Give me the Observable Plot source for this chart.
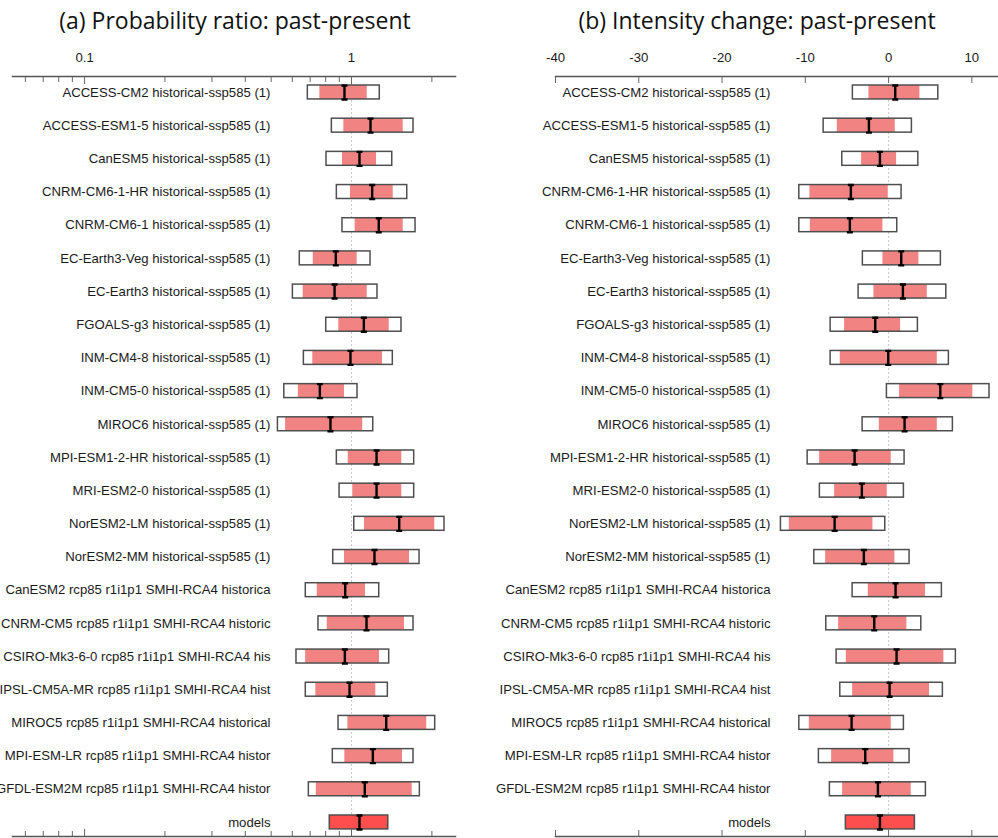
<!DOCTYPE html>
<html>
<head>
<meta charset="utf-8">
<script src="https://cdn.jsdelivr.net/npm/d3@7"></script>
<script src="https://cdn.jsdelivr.net/npm/@observablehq/plot@0.6"></script>
<style>
  body { margin: 0; background: #fff; }
  #wrap { position: relative; width: 998px; height: 838px; overflow: hidden; background: #fff; }
  .title { position: absolute; top: 0; height: 40px; line-height: 40px; transform: translateX(-50%);
           font-family: "Open Sans", sans-serif; font-size: 23px; color: #111; white-space: nowrap; }
  .panel { position: absolute; top: 40px; }
</style>
</head>
<body>
<div id="wrap">
  <div class="title" style="left:235px">(a) Probability ratio: past-present</div>
  <div class="title" style="left:757px">(b) Intensity change: past-present</div>
  <div class="panel" id="pa" style="left:0px"></div>
  <div class="panel" id="pb" style="left:500px"></div>
</div>
<script>
// ---- data ----
const models = [
  "ACCESS-CM2 historical-ssp585 (1)",
  "ACCESS-ESM1-5 historical-ssp585 (1)",
  "CanESM5 historical-ssp585 (1)",
  "CNRM-CM6-1-HR historical-ssp585 (1)",
  "CNRM-CM6-1 historical-ssp585 (1)",
  "EC-Earth3-Veg historical-ssp585 (1)",
  "EC-Earth3 historical-ssp585 (1)",
  "FGOALS-g3 historical-ssp585 (1)",
  "INM-CM4-8 historical-ssp585 (1)",
  "INM-CM5-0 historical-ssp585 (1)",
  "MIROC6 historical-ssp585 (1)",
  "MPI-ESM1-2-HR historical-ssp585 (1)",
  "MRI-ESM2-0 historical-ssp585 (1)",
  "NorESM2-LM historical-ssp585 (1)",
  "NorESM2-MM historical-ssp585 (1)",
  "CanESM2 rcp85 r1i1p1 SMHI-RCA4 historica",
  "CNRM-CM5 rcp85 r1i1p1 SMHI-RCA4 historic",
  "CSIRO-Mk3-6-0 rcp85 r1i1p1 SMHI-RCA4 his",
  "IPSL-CM5A-MR rcp85 r1i1p1 SMHI-RCA4 hist",
  "MIROC5 rcp85 r1i1p1 SMHI-RCA4 historical",
  "MPI-ESM-LR rcp85 r1i1p1 SMHI-RCA4 histor",
  "GFDL-ESM2M rcp85 r1i1p1 SMHI-RCA4 histor",
  "models"
];

// (a) probability ratio
const prOuterLo = [0.686,0.844,0.806,0.881,0.925,0.640,0.603,0.804,0.663,0.560,0.530,0.881,0.902,1.024,0.854,0.674,0.752,0.622,0.674,0.894,0.851,0.692,0.829];
const prInnerLo = [0.761,0.936,0.925,0.991,1.032,0.719,0.659,0.896,0.716,0.632,0.566,0.972,1.011,1.118,0.941,0.744,0.811,0.673,0.735,0.969,0.944,0.738,0.829];
const prBest    = [0.941,1.178,1.071,1.195,1.265,0.873,0.864,1.112,0.991,0.761,0.834,1.241,1.241,1.509,1.219,0.947,1.138,0.944,0.983,1.349,1.202,1.121,1.071];
const prInnerHi = [1.145,1.562,1.241,1.433,1.562,1.050,1.145,1.384,1.306,0.941,1.102,1.543,1.543,2.051,1.649,1.128,1.579,1.273,1.233,1.914,1.552,1.688,1.373];
const prOuterHi = [1.276,1.707,1.421,1.617,1.737,1.178,1.251,1.539,1.428,1.053,1.206,1.717,1.717,2.230,1.798,1.270,1.707,1.384,1.368,2.058,1.707,1.803,1.373];

// (b) intensity change
const icOuterLo = [-4.29,-7.80,-5.56,-10.72,-10.72,-3.09,-3.60,-6.96,-6.96,-0.20,-3.12,-9.72,-8.25,-12.93,-8.92,-4.32,-7.48,-6.24,-5.80,-10.72,-8.37,-7.05,-5.13];
const icInnerLo = [-2.36,-6.16,-3.24,-9.45,-9.40,-0.68,-1.76,-5.28,-5.80,1.32,-1.12,-8.28,-6.48,-11.92,-7.56,-2.44,-6.00,-5.08,-4.32,-9.52,-6.84,-5.52,-5.13];
const icBest    = [0.80,-2.36,-1.04,-4.53,-4.65,1.52,1.72,-1.60,-0.04,6.21,1.92,-4.08,-3.21,-6.48,-2.97,0.84,-1.72,0.96,0.12,-4.44,-2.80,-1.28,-1.04];
const icInnerHi = [3.76,0.80,0.96,-0.04,-0.68,3.64,4.65,1.44,5.85,10.12,5.85,0.32,-0.16,-1.88,0.76,4.44,2.20,6.64,4.92,0.32,0.64,2.72,3.16];
const icOuterHi = [5.97,2.80,3.57,1.56,1.04,6.28,6.93,3.52,7.24,12.12,7.72,1.92,1.84,-0.40,2.52,6.40,3.93,8.08,6.52,1.84,2.52,4.48,3.16];

// axis ticks
const prMajorTicks = [0.1, 1];
const prMinorTicks = [0.06,0.07,0.08,0.09,0.2,0.3,0.4,0.5,0.6,0.7,0.8,0.9,2];
const icTicks = [-40,-30,-20,-10,0,10];

// ---- drawing ----
const iBeam = {
  draw(context, size) {
    const h = Math.sqrt(size / Math.PI), w = 3;
    context.moveTo(0, -h); context.lineTo(0, h);
    context.moveTo(-w, -h); context.lineTo(w, -h);
    context.moveTo(-w, h); context.lineTo(w, h);
  }
};

function rows(oLo, iLo, best, iHi, oHi) {
  return models.map((name, i) => ({name, oLo: oLo[i], iLo: iLo[i], best: best[i], iHi: iHi[i], oHi: oHi[i]}));
}

function panel({data, x, marginLeft, marginRight, labelDx, refValue, axisMarks}) {
  const isAll = d => d.name === "models";
  return Plot.plot({
    width: 498,
    height: 798,
    marginTop: 36,
    marginBottom: 2,
    marginLeft,
    marginRight,
    x,
    y: {domain: models, paddingInner: 0.58, paddingOuter: 0.2425, align: 0.56, round: false, axis: null},
    style: {fontFamily: "'Liberation Sans', Arial, sans-serif", fontSize: "13.15px", background: "white", color: "#1a1a1a", overflow: "visible"},
    marks: [
      Plot.ruleX([refValue], {stroke: "#c9c9c9", strokeWidth: 1, strokeDasharray: "2,2"}),
      Plot.barX(data, {y: "name", x1: "oLo", x2: "oHi", fill: "white"}),
      Plot.barX(data, {y: "name", x1: "iLo", x2: "iHi", fill: "#f28383", filter: d => !isAll(d)}),
      Plot.barX(data, {y: "name", x1: "iLo", x2: "iHi", fill: "#ff4e4e", filter: isAll}),
      Plot.barX(data, {y: "name", x1: "oLo", x2: "oHi", fill: "none", stroke: "#4f4f4f", strokeWidth: 1.5}),
      Plot.dot(data, {y: "name", x: "best", symbol: iBeam, r: 7, stroke: "#000", strokeWidth: 2.4, fill: "none"}),
      Plot.text(data, {y: "name", text: "name", frameAnchor: "left", textAnchor: "end", dx: labelDx, fill: "#1a1a1a"}),
      Plot.frame({anchor: "top", stroke: "#555", strokeWidth: 1.5}),
      Plot.frame({anchor: "bottom", stroke: "#555", strokeWidth: 1.5}),
      ...axisMarks
    ]
  });
}

const fmt = d => String(d);

document.getElementById("pa").appendChild(panel({
  data: rows(prOuterLo, prInnerLo, prBest, prInnerHi, prOuterHi),
  x: {type: "log", domain: [0.0537, 2.452]},
  marginLeft: 12, marginRight: 43,
  labelDx: 258,
  refValue: 1,
  axisMarks: [
    Plot.axisX(prMajorTicks, {anchor: "top", tickSize: -7, tickPadding: 22, tickFormat: fmt, stroke: "#666"}),
    Plot.axisX(prMinorTicks, {anchor: "top", tickSize: -5, tickFormat: () => "", stroke: "#666"}),
    Plot.axisX(prMajorTicks, {anchor: "bottom", tickSize: -7, tickFormat: () => "", stroke: "#666"}),
    Plot.axisX(prMinorTicks, {anchor: "bottom", tickSize: -5, tickFormat: () => "", stroke: "#666"})
  ]
}));

document.getElementById("pb").appendChild(panel({
  data: rows(icOuterLo, icInnerLo, icBest, icInnerHi, icOuterHi),
  x: {type: "linear", domain: [-40, 13.2]},
  marginLeft: 55, marginRight: 0,
  labelDx: 215,
  refValue: 0,
  axisMarks: [
    Plot.axisX(icTicks, {anchor: "top", tickSize: -6, tickPadding: 21, tickFormat: fmt, stroke: "#666"}),
    Plot.axisX(icTicks, {anchor: "bottom", tickSize: -6, tickFormat: () => "", stroke: "#666"})
  ]
}));
</script>
</body>
</html>
